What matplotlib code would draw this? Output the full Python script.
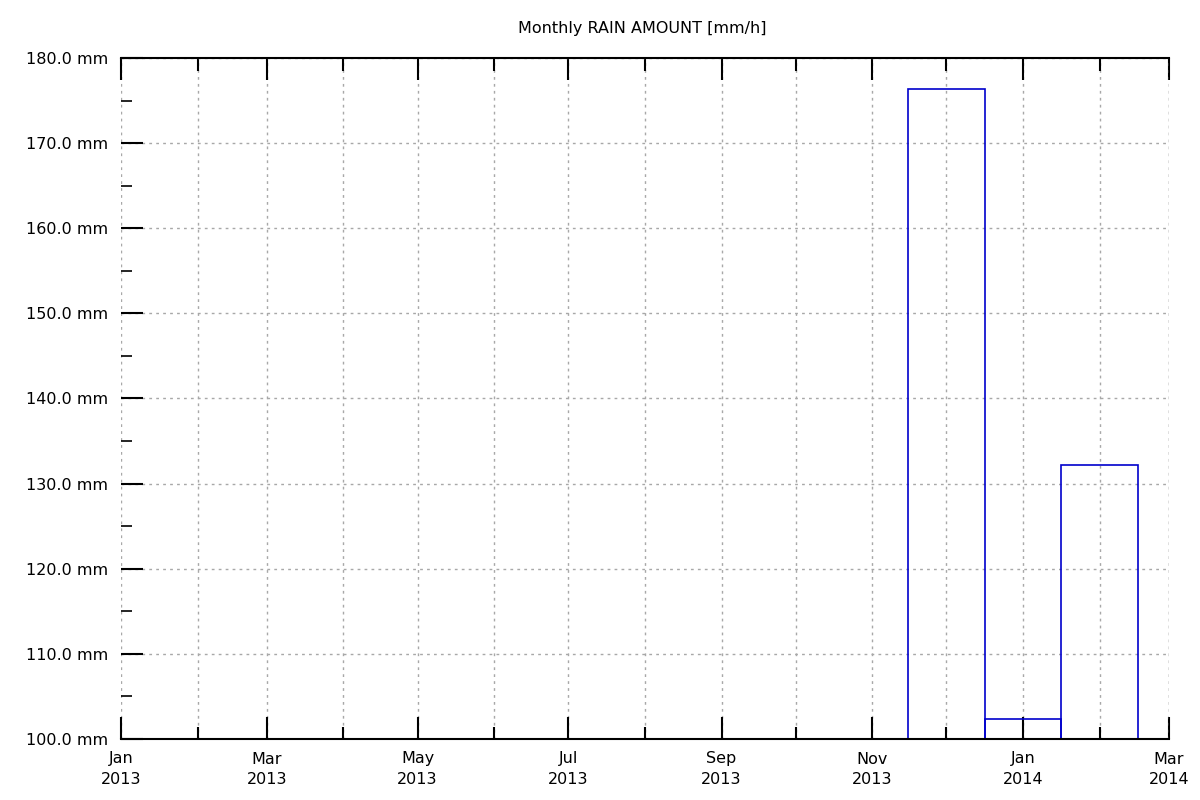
import matplotlib
matplotlib.use("Agg")
import matplotlib.pyplot as plt
import matplotlib.dates as mdates
from matplotlib.ticker import MultipleLocator, FuncFormatter
import datetime as dt

# monthly rain totals (bar centred on month start)
months = [dt.date(2013, 12, 1), dt.date(2014, 1, 1), dt.date(2014, 2, 1)]
rain = [176.3, 102.3, 132.2]

fig = plt.figure(figsize=(12, 8), dpi=100)
ax = fig.add_axes([0.1008, 0.07625, 0.8733, 0.85125])

ax.bar(months, rain, width=31, fill=False, edgecolor="#0000cc", linewidth=1.2)

ax.set_xlim(dt.date(2013, 1, 1), dt.date(2014, 3, 1))
ax.set_ylim(100, 180)

ax.xaxis.set_major_locator(mdates.MonthLocator(bymonth=[1, 3, 5, 7, 9, 11]))
ax.xaxis.set_minor_locator(mdates.MonthLocator())
ax.xaxis.set_major_formatter(mdates.DateFormatter("%b\n%Y"))
ax.yaxis.set_major_locator(MultipleLocator(10))
ax.yaxis.set_minor_locator(MultipleLocator(5))
ax.yaxis.set_major_formatter(FuncFormatter(lambda v, p: f"{v:.1f} mm"))

for s in ["left", "right"]:
    ax.spines[s].set_visible(False)
for s in ["top", "bottom"]:
    ax.spines[s].set_linewidth(1.5)

ax.tick_params(axis="x", which="major", direction="in", length=16, width=1.5,
               top=True, bottom=True, labelsize=11.5, pad=9)
ax.tick_params(axis="x", which="minor", direction="in", length=9, width=1.5,
               top=True, bottom=True)
ax.tick_params(axis="y", which="major", direction="in", length=16, width=1.5,
               left=True, right=False, labelsize=11.5, pad=9)
ax.tick_params(axis="y", which="minor", direction="in", length=8, width=1.2,
               left=True, right=False)

grid_style = dict(linestyle=(0, (2, 3)), color="#a8a8a8", linewidth=1)
ax.grid(True, axis="x", which="both", **grid_style)
ax.grid(True, axis="y", which="major", **grid_style)
ax.axvline(dt.date(2014, 3, 1), **grid_style)
ax.set_axisbelow(True)

for lbl in ax.get_xticklabels():
    lbl.set_horizontalalignment("center")
    lbl.set_linespacing(1.45)

fig.text(0.535, 0.965, "Monthly RAIN AMOUNT [mm/h]", ha="center", va="center", fontsize=11.5)

fig.savefig("out.png", dpi=100)
